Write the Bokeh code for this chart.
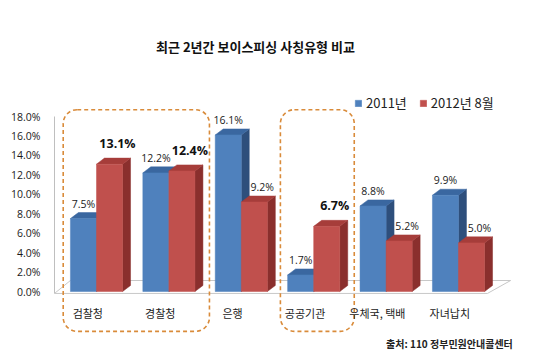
from bokeh.plotting import figure
from bokeh.models import Range1d, FixedTicker, PrintfTickFormatter, Legend, LegendItem, Label, ColumnDataSource
from bokeh.core.properties import value
from bokeh.embed import file_html
from bokeh.resources import INLINE

# ---------------- data ----------------
title_text = "최근 2년간 보이스피싱 사칭유형 비교"
categories = ["검찰청", "경찰청", "은행", "공공기관", "우체국, 택배", "자녀납치"]
series_names = ["2011년", "2012년 8월"]
values_2011 = [7.5, 12.2, 16.1, 1.7, 8.8, 9.9]
values_2012 = [13.1, 12.4, 9.2, 6.7, 5.2, 5.0]
highlight_groups = [("검찰청", "경찰청"), ("공공기관", "공공기관")]
y_ticks = [0, 2, 4, 6, 8, 10, 12, 14, 16, 18]
source_note = "출처: 110 정부민원안내콜센터"

# ---------------- style / geometry ----------------
W, H = 524, 352
LEFT = 54
XPX = 72.4     # px per category
YPX = 9.722    # px per percent
X0 = 42        # px from frame left to first group centre
Y0 = 291       # px from top to zero line
FRAME_W = W - LEFT

x_start = -X0 / XPX
x_end = x_start + FRAME_W / XPX
y_end = Y0 / YPX
y_start = -(H - Y0) / YPX

BW = 0.36     # bar width (data units)
DX = 0.11     # depth offset x
DZ = 0.62     # depth offset y

BLUE = ("#4F81BD", "#3A67A0", "#2E4F7C")   # front, top, side
RED = ("#C0504D", "#A63D3A", "#8A2F2D")

KFONT = "Noto Sans CJK KR"
NFONT = "Open Sans"

p = figure(width=W, height=H, output_backend="svg", toolbar_location=None,
           x_range=Range1d(x_start, x_end), y_range=Range1d(y_start, y_end),
           x_axis_type=None, min_border_left=LEFT, min_border_right=0,
           min_border_top=0, min_border_bottom=0)
p.outline_line_color = None
p.grid.visible = False
p.background_fill_color = "white"

# y axis
yax = p.yaxis[0]
yax.ticker = FixedTicker(ticks=y_ticks)
yax.formatter = PrintfTickFormatter(format="%.1f%%")
yax.bounds = (-0.2, max(y_ticks))
yax.axis_line_color = "#BFBFBF"
yax.major_tick_line_color = None
yax.minor_tick_line_color = None
yax.major_label_text_font = NFONT
yax.major_label_text_font_size = "10.5px"
yax.major_label_text_color = "#1a1a1a"
yax.major_label_standoff = 8

n = len(categories)
idx = list(range(n))

# floor (3D base)
floor_front = -0.2
floor_back = 1.13
p.patch([x_start, x_start + 0.22, (n - 1) + 0.72, (n - 1) + 0.40],
        [floor_front, floor_back, floor_back, floor_front],
        fill_color="white", line_color="#C8C8C8", line_width=1)


def draw_series(vals, colors, offset_sign):
    if offset_sign < 0:
        lefts = [i - BW for i in idx]
    else:
        lefts = [float(i) for i in idx]
    rights = [l + BW for l in lefts]
    side_xs = [[r, r + DX, r + DX, r] for r in rights]
    side_ys = [[0, DZ, v + DZ, v] for v in vals]
    top_xs = [[l, l + DX, r + DX, r] for l, r in zip(lefts, rights)]
    top_ys = [[v, v + DZ, v + DZ, v] for v in vals]
    p.patches(side_xs, side_ys, fill_color=colors[2], line_color=colors[2], line_width=0.5)
    p.patches(top_xs, top_ys, fill_color=colors[1], line_color=colors[1], line_width=0.5)
    r = p.quad(left=lefts, right=rights, bottom=[0] * n, top=vals,
               fill_color=colors[0], line_color=colors[0], line_width=0.5)
    return r, lefts, rights


r1, l1, rr1 = draw_series(values_2011, BLUE, -1)
r2, l2, rr2 = draw_series(values_2012, RED, +1)

# highlight boxes
for a, b in highlight_groups:
    ia, ib = categories.index(a), categories.index(b)
    p.quad(left=[ia - 0.46], right=[ib + 0.56], bottom=[-4.1], top=[18.7],
           fill_color=None, line_color="#D98B3A", line_width=1.6,
           line_dash="4 3", border_radius=14)

# data labels
highlighted = set()
for a, b in highlight_groups:
    for i in range(categories.index(a), categories.index(b) + 1):
        highlighted.add(i)

reg = dict(x=[], y=[], t=[])
bold = dict(x=[], y=[], t=[])
for vals, lefts, rights, is2012 in ((values_2011, l1, rr1, False), (values_2012, l2, rr2, True)):
    for i in idx:
        cx = (lefts[i] + rights[i]) / 2 + (0.11 if is2012 else 0.0)
        d = bold if (is2012 and i in highlighted) else reg
        d["x"].append(cx)
        d["y"].append(vals[i] + DZ)
        d["t"].append(f"{vals[i]:.1f}%")

p.text(x="x", y="y", text="t", source=ColumnDataSource(reg), text_align="center",
       text_baseline="bottom", y_offset=-2, text_font=value(NFONT),
       text_font_size="10.5px", text_color="#1a1a1a")
p.text(x="x", y="y", text="t", source=ColumnDataSource(bold), text_align="center",
       text_baseline="bottom", y_offset=-6, text_font=value(NFONT),
       text_font_size="12.5px", text_font_style="bold", text_color="#111111")

# category labels
p.text(x=[i - 0.12 for i in idx], y=[-2.25] * n, text=categories,
       text_align="center", text_baseline="middle", text_font=value(KFONT),
       text_font_size="11px", text_color="#222222")

# title
p.add_layout(Label(x=2.196, y=25.2, text=title_text, text_align="center",
                   text_baseline="middle", text_font=KFONT, text_font_size="13px",
                   text_font_style="bold", text_color="#111111"))

# source note
p.add_layout(Label(x=5.75, y=-5.4, text=source_note, text_align="right",
                   text_baseline="middle", text_font=KFONT, text_font_size="10px",
                   text_font_style="bold", text_color="#222222"))

legend = Legend(items=[LegendItem(label=series_names[0], renderers=[r1]),
                       LegendItem(label=series_names[1], renderers=[r2])],
                orientation="horizontal", location=(300, 240),
                padding=0, margin=0, spacing=12, glyph_width=8, glyph_height=8,
                label_standoff=4, label_height=16,
                label_text_font=KFONT, label_text_font_size="13px",
                label_text_color="#222222", background_fill_alpha=0,
                border_line_color=None)
p.add_layout(legend)

open("out.html", "w").write(file_html(p, INLINE))
